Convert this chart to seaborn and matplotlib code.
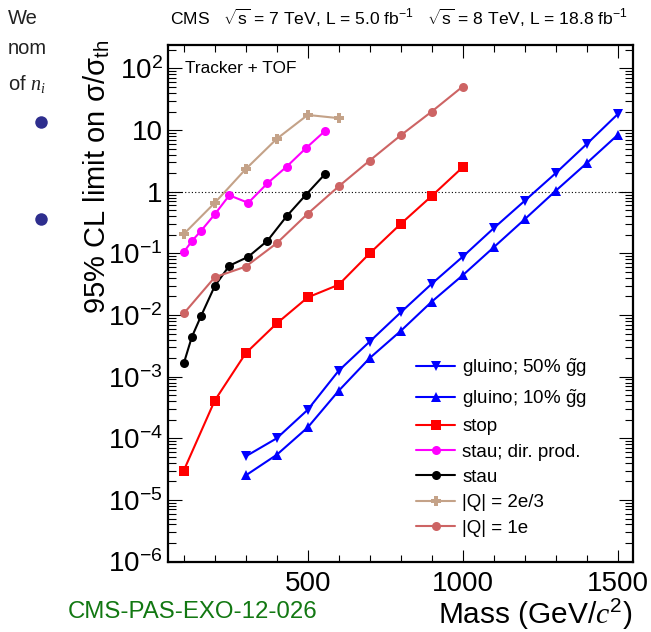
import numpy as np
import pandas as pd
import matplotlib
matplotlib.use('Agg')
import matplotlib.pyplot as plt
import seaborn as sns
from matplotlib.ticker import FixedLocator, MultipleLocator, LogLocator, NullFormatter
from matplotlib.lines import Line2D

# дані
stau_mass = [100, 126, 156, 200, 247, 308, 370, 432, 494, 557]
stau_dir_limit = [0.105, 0.158, 0.233, 0.43, 0.875, 0.66, 1.37, 2.55, 5.07, 9.8]
stau_limit = [1.64e-3, 4.4e-3, 9.7e-3, 0.0295, 0.063, 0.088, 0.16, 0.40, 0.89, 1.96]

q23_mass = [100, 200, 300, 400, 500, 600]
q23_limit = [0.206, 0.66, 2.33, 7.2, 17.6, 15.6]

q1_mass = [100, 200, 300, 400, 500, 600, 700, 800, 900, 1000]
q1_limit = [0.0106, 0.041, 0.061, 0.146, 0.44, 1.22, 3.2, 8.2, 19.9, 50.7]

stop_mass = [100, 200, 300, 400, 500, 600, 700, 800, 900, 1000]
stop_limit = [3.0e-5, 4.1e-4, 2.4e-3, 7.3e-3, 0.0193, 0.031, 0.10, 0.30, 0.85, 2.49]

gluino_mass = [300, 400, 500, 600, 700, 800, 900, 1000, 1100, 1200, 1300, 1400, 1500]
gluino50_limit = [5.1e-5, 1.0e-4, 2.9e-4, 1.25e-3, 3.7e-3, 0.011, 0.032, 0.088,
                  0.255, 0.71, 1.99, 5.9, 18.0]
gluino10_limit = [2.5e-5, 5.4e-5, 1.5e-4, 5.9e-4, 2.0e-3, 5.5e-3, 0.0164, 0.044,
                  0.125, 0.356, 1.03, 2.89, 8.3]

y_ticks = [1e-6, 1e-5, 1e-4, 1e-3, 1e-2, 1e-1, 1, 10, 100]
y_tick_labels = ['$10^{-6}$', '$10^{-5}$', '$10^{-4}$', '$10^{-3}$', '$10^{-2}$',
                 '$10^{-1}$', '1', '10', '$10^{2}$']
x_ticks = [500, 1000, 1500]

series = [
    ('gluino; 50% $\\tilde{g}$g', gluino_mass, gluino50_limit, '#0000ff', 'v'),
    ('gluino; 10% $\\tilde{g}$g', gluino_mass, gluino10_limit, '#0000ff', '^'),
    ('stop', stop_mass, stop_limit, '#ff0000', 's'),
    ('stau; dir. prod.', stau_mass, stau_dir_limit, '#ff00ff', 'o'),
    ('stau', stau_mass, stau_limit, '#000000', 'o'),
    ('|Q| = 2e/3', q23_mass, q23_limit, '#c4a288', 'P'),
    ('|Q| = 1e', q1_mass, q1_limit, '#cd6464', 'o'),
]

sns.set_style('ticks')
plt.rcParams['font.family'] = ['Liberation Sans', 'DejaVu Sans']
plt.rcParams['mathtext.fontset'] = 'custom'
plt.rcParams['mathtext.default'] = 'regular'
plt.rcParams['mathtext.rm'] = 'Liberation Sans'
plt.rcParams['mathtext.it'] = 'Liberation Serif:italic'
plt.rcParams['text.color'] = 'black'
plt.rcParams['axes.labelcolor'] = 'black'
plt.rcParams['xtick.color'] = 'black'
plt.rcParams['ytick.color'] = 'black'

fig = plt.figure(figsize=(6.51, 6.32), dpi=100)
fig.patch.set_facecolor('white')
ax = fig.add_axes([0.2585, 0.1114, 0.7139, 0.8174])

for label, m, lim, col, mk in series:
    df = pd.DataFrame({'mass': m, 'limit': lim})
    ms = 7.5 if mk == 'P' else 6.5
    sns.lineplot(data=df, x='mass', y='limit', ax=ax, color=col, marker=mk,
                 markersize=ms, markeredgewidth=0, linewidth=1.5, label=label)

ax.axhline(1, color='black', linewidth=0.8, linestyle=(0, (1, 2)), zorder=0)

ax.set_yscale('log')
ax.set_xlim(50, 1550)
ax.set_ylim(1e-6, 10 ** 2.38)

ax.yaxis.set_major_locator(FixedLocator(y_ticks))
ax.set_yticklabels(y_tick_labels)
ax.yaxis.set_minor_locator(LogLocator(base=10, subs=np.arange(2, 10)))
ax.yaxis.set_minor_formatter(NullFormatter())
ax.xaxis.set_major_locator(FixedLocator(x_ticks))
ax.xaxis.set_minor_locator(MultipleLocator(100))

ax.tick_params(axis='both', which='both', direction='in', top=True, right=True,
               width=0.8, labelsize=20, colors='black')
ax.tick_params(axis='y', which='major', length=10, pad=4)
ax.tick_params(axis='y', which='minor', length=5.5)
ax.tick_params(axis='x', which='major', length=9, pad=7)
ax.tick_params(axis='x', which='minor', length=5)
for sp in ax.spines.values():
    sp.set_linewidth(1.6)
    sp.set_color('black')

ax.set_xlabel('')
ax.set_ylabel('')
fig.text(0.972, 1 - 624 / 632, 'Mass (GeV/$\\mathit{c}^{2}$)', ha='right', va='baseline',
         fontsize=21.5)
fig.text(97 / 651, 1 - 40 / 632, '95% CL limit on σ/σ$_{th}$', rotation=90,
         ha='center', va='top', fontsize=21)

ax.text(0.035, 0.955, 'Tracker + TOF', transform=ax.transAxes, ha='left', va='center',
        fontsize=12.4)
fig.text(0.613, 1 - 18 / 632,
         'CMS   $\\sqrt{s}$ = 7 TeV, L = 5.0 fb$^{-1}$   $\\sqrt{s}$ = 8 TeV, L = 18.8 fb$^{-1}$',
         ha='center', va='center', fontsize=12.6)

handles, labels = ax.get_legend_handles_labels()
ax.legend(handles, labels, loc='upper left', bbox_to_anchor=(0.533, 0.397),
          frameon=False, fontsize=13.5, handlelength=2.1, handletextpad=0.37,
          labelspacing=0.44, borderpad=0, borderaxespad=0)

# фрагменти слайда навколо рисунка
fig.text(8 / 651, 1 - 18 / 632, 'We', ha='left', va='center', fontsize=14.5, color='#222222')
fig.text(8 / 651, 1 - 48 / 632, 'nom', ha='left', va='center', fontsize=14.5, color='#222222')
fig.text(8 / 651, 1 - 84 / 632, 'of $\\mathit{n_{i}}$', ha='left', va='center', fontsize=14.5,
         color='#222222')
for yb in [122, 219]:
    fig.add_artist(Line2D([41 / 651], [1 - yb / 632], marker='o', markersize=9,
                          color='#2e2e8e', markeredgewidth=0, transform=fig.transFigure))
fig.text(68 / 651, 1 - 618 / 632, 'CMS-PAS-EXO-12-026', ha='left', va='baseline',
         fontsize=17.3, color='#127812')

fig.savefig('out.png', dpi=100)
